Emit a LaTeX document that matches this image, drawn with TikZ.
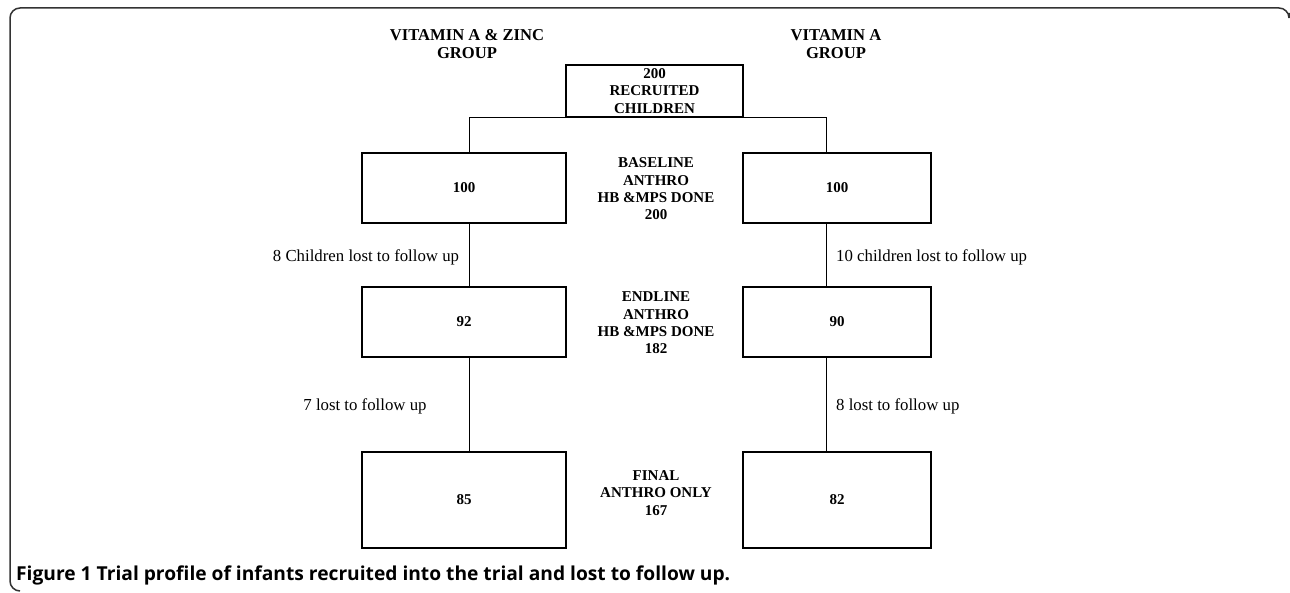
\documentclass[tikz,border=0pt]{standalone}
\usepackage{fontspec}
\setmainfont{Liberation Serif}
\newfontfamily\capfont{Open Sans}
\usepackage{xcolor}
\newcommand{\flowbf}{\fontsize{15}{17.4}\selectfont\bfseries}
\newcommand{\headbf}{\fontsize{16.6}{18.5}\selectfont\bfseries}
\newcommand{\lossrm}{\fontsize{16.8}{18}\selectfont}
\tikzset{%
  framed/.style={draw=black!80, line width=1.5pt, rounded corners=10pt},
  grpbox/.style={draw, line width=1.2pt, inner sep=0pt, align=center, font=\flowbf},
  lbox/.style={grpbox, minimum width=204pt, minimum height=70pt},
  rbox/.style={grpbox, minimum width=188pt, minimum height=70pt},
  headtext/.style={align=center, font=\headbf, inner sep=0pt},
  midtext/.style={align=center, font=\flowbf, inner sep=0pt},
  losstext/.style={font=\lossrm, inner sep=0pt},
  link/.style={draw, line width=0.8pt},
  captext/.style={font=\capfont\bfseries\fontsize{19.2}{22}\selectfont, inner sep=0pt, anchor=west}
}

\begin{document}
\begin{tikzpicture}[x=1pt,y=-1pt]
    \useasboundingbox (0,0) rectangle (1290,593);
    \draw[framed] (1289,13) |- (10,8) |- (20,591);
    \node[headtext] (hzinc) at (467,44) {VITAMIN A \& ZINC\\GROUP};
    \node[headtext] (hvita) at (836,44) {VITAMIN A\\GROUP};
    \node[grpbox, minimum width=177pt, minimum height=52pt] (rec) at (654.5,91) {200\\RECRUITED\\CHILDREN};
    \node[lbox] (l1) at (464,188) {100};
    \node[rbox] (r1) at (837,188) {100};
    \node[midtext] (m1) at (656,189) {BASELINE\\ANTHRO\\HB \&MPS DONE\\200};
    \node[lbox] (l2) at (464,322) {92};
    \node[rbox] (r2) at (837,322) {90};
    \node[midtext] (m2) at (656,323) {ENDLINE\\ANTHRO\\HB \&MPS DONE\\182};
    \node[lbox, minimum height=96pt] (l3) at (464,500) {85};
    \node[rbox, minimum height=96pt] (r3) at (837,500) {82};
    \node[midtext] (m3) at (656,493) {FINAL\\ANTHRO ONLY\\167};
    \coordinate (lcol) at (469,0);
    \coordinate (rcol) at (826,0);
    \draw[link] (l1.north -| lcol) |- (rec.south) -| (r1.north -| rcol);
    \draw[link] (l1.south -| lcol) -- (l2.north -| lcol);
    \draw[link] (r1.south -| rcol) -- (r2.north -| rcol);
    \draw[link] (l2.south -| lcol) -- (l3.north -| lcol);
    \draw[link] (r2.south -| rcol) -- (r3.north -| rcol);
    \node[losstext] (lloss1) at (366,257) {8 Children lost to follow up};
    \node[losstext, anchor=west] (rloss1) at (836,257) {10 children lost to follow up};
    \node[losstext] (lloss2) at (365,406) {7 lost to follow up};
    \node[losstext, anchor=west] (rloss2) at (836,406) {8 lost to follow up};
    \node[captext] (cap) at (16,575) {Figure 1 Trial profile of infants recruited into the trial and lost to follow up.};
\end{tikzpicture}
\end{document}
